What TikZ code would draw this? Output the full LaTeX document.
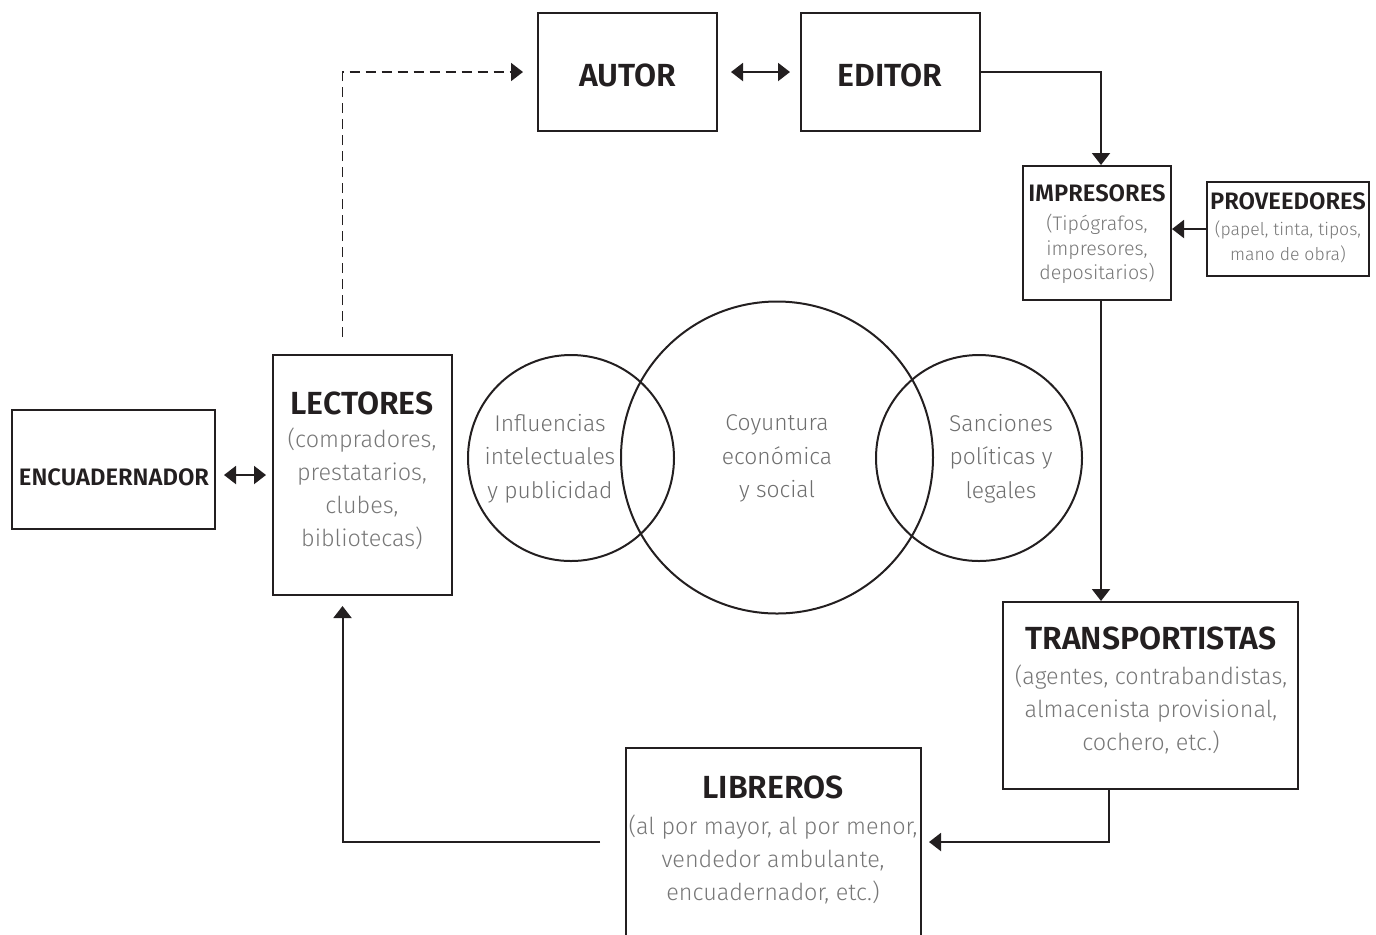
\documentclass[tikz,border=0pt]{standalone}
\usepackage{fontspec}
\setmainfont{Fira Sans}
\newfontfamily\firasemi{Fira Sans SemiBold}
\newfontfamily\firalight{Fira Sans Light}
\usetikzlibrary{arrows.meta,fit}
\definecolor{ink}{HTML}{231F20}
\definecolor{note}{HTML}{777777}
\definecolor{theme}{HTML}{6E6E6E}

\begin{document}
\begin{tikzpicture}[x=0.5pt,y=-0.5pt,
  box/.style={draw=ink,line width=1pt,inner sep=0pt},
  ring/.style={draw=ink,line width=1pt,circle,inner sep=0pt,minimum size=#1},
  bigtitle/.style={text=ink,inner sep=0pt,font=\firasemi\fontsize{16}{19}\selectfont},
  smalltitle/.style={text=ink,inner sep=0pt,font=\firasemi\fontsize{11.9}{14}\selectfont},
  bignote/.style={text=note,inner sep=0pt,align=center,font=\firalight\fontsize{11.7}{16.5}\selectfont},
  smallnote/.style={text=note,inner sep=0pt,align=center,font=\firalight\fontsize{9.8}{12.3}\selectfont},
  tinynote/.style={text=note,inner sep=0pt,align=center,font=\firalight\fontsize{8.8}{12.5}\selectfont},
  themetext/.style={text=theme,inner sep=0pt,align=center,font=\firalight\fontsize{11.4}{16.7}\selectfont},
  arr/.style={draw=ink,line width=1pt,-{Triangle[length=6pt,width=9pt]}},
  dbl/.style={draw=ink,line width=1pt,{Triangle[length=6pt,width=9pt]}-{Triangle[length=6pt,width=9pt]}},
  dashline/.style={draw=ink,line width=0.9pt,dash pattern=on 5pt off 3pt,-{Triangle[length=6pt,width=9pt]}}
]
\path[use as bounding box] (0,0) rectangle (1376,934);
\clip (0,0) rectangle (1376,934);

% boxes
\node (autor) [box, fit={(538,13) (717,131)}] {};
\node (editor) [box, fit={(801,13) (980,131)}] {};
\node (impr) [box, fit={(1023,166) (1171,300)}] {};
\node (prov) [box, fit={(1207,182) (1369,276)}] {};
\node (transp) [box, fit={(1003,602) (1298,789)}] {};
\node (libr) [box, fit={(626,748) (921,936)}] {};
\node (lect) [box, fit={(273,355) (452,595)}] {};
\node (encu) [box, fit={(12,410) (215,529)}] {};

% box texts
\node (autor-t) [bigtitle] at (628,75.5) {AUTOR};
\node (editor-t) [bigtitle] at (890,75.5) {EDITOR};
\node (impr-t) [smalltitle] at (1097,193.5) {IMPRESORES};
\node (impr-s) [smallnote] at (1097,249) {(Tipógrafos,\\impresores,\\depositarios)};
\node (prov-t) [smalltitle] at (1288,201.5) {PROVEEDORES};
\node (prov-s) [tinynote] at (1288,242) {(papel, tinta, tipos,\\mano de obra)};
\node (transp-t) [bigtitle] at (1151,638) {TRANSPORTISTAS};
\node (transp-s) [bignote] at (1151,709) {(agentes, contrabandistas,\\almacenista provisional,\\cochero, etc.)};
\node (libr-t) [bigtitle] at (773,787) {LIBREROS};
\node (libr-s) [bignote] at (773,859) {(al por mayor, al por menor,\\vendedor ambulante,\\encuadernador, etc.)};
\node (lect-t) [bigtitle] at (362,403) {LECTORES};
\node (lect-s) [bignote] at (362,488.5) {(compradores,\\prestatarios,\\clubes,\\bibliotecas)};
\node (encu-t) [smalltitle] at (114,477) {ENCUADERNADOR};

% overlapping circles
\node (infl) [ring=103pt] at (571,458) {};
\node (coy) [ring=156pt] at (777,457.5) {};
\node (sanc) [ring=103pt] at (979,458) {};
\node (infl-t) [themetext] at (550,458.5) {Influencias\\intelectuales\\y publicidad};
\node (coy-t) [themetext] at (777,458.5) {Coyuntura\\económica\\y social};
\node (sanc-t) [themetext] at (1001,458.5) {Sanciones\\políticas y\\legales};

% connectors
\draw[dbl] ([xshift=6.5pt]autor.east) -- ([xshift=-5pt]editor.west);
\draw[arr] (editor.east) -| ([xshift=2pt]impr.north);
\draw[arr] (prov.west) -- (prov.west -| impr.east);
\draw[arr] ([xshift=2pt]impr.south) -- ([xshift=2pt]impr.south |- transp.north);
\draw[arr] ([xshift=-20.75pt]transp.south) |- ([xshift=3.5pt]libr.east);
\draw[arr] ([xshift=-12.5pt]libr.west) -| ([xshift=-10pt,yshift=-5pt]lect.south);
\draw[dbl] ([xshift=4pt]encu.east |- lect.west) -- ([xshift=-3pt]lect.west);
\draw[dashline] ([xshift=-10pt,yshift=8.5pt]lect.north) |- ([xshift=-7pt]autor.west);
\end{tikzpicture}
\end{document}
